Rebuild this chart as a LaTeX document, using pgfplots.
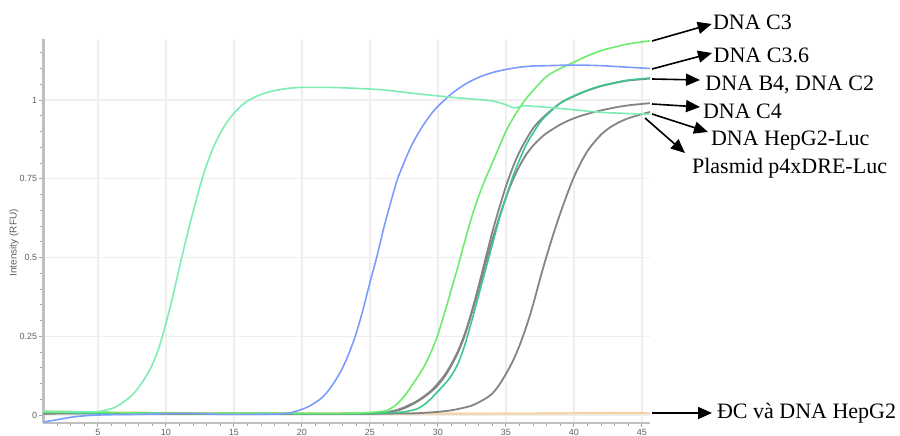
\documentclass[border=0pt]{standalone}
\usepackage{fontspec}
\setmainfont{Liberation Serif}
\newfontfamily\axisfont{Liberation Sans}
\usepackage{pgfplots}
\pgfplotsset{compat=1.18}
\usetikzlibrary{arrows.meta}

\definecolor{aqua}{HTML}{7DEDB4}
\definecolor{cblue}{HTML}{7B9CFF}
\definecolor{lgreen}{HTML}{6DEB6D}
\definecolor{mgreen}{HTML}{3CC88C}
\definecolor{cgray}{HTML}{848484}
\definecolor{corange}{HTML}{F2C98E}

\begin{document}
\begin{tikzpicture}
\begin{axis}[
  at={(0,0)}, anchor=south west,
  scale only axis, width=303.25pt, height=192pt,
  xmin=1, xmax=45.6, ymin=-0.0254, ymax=1.1937,
  axis x line=bottom, axis y line=left,
  axis line style={-, draw=gray!50, line width=1.2pt},
  xtick={5,10,...,45}, xticklabels={5,10,15,20,25,30,35,40,45},
  minor xtick={2,3,...,45},
  ytick={0,0.25,0.5,0.75,1}, yticklabels={0,0.25,0.5,0.75,1},
  minor ytick={0.05,0.1,...,1.16},
  grid=major, major grid style={draw=gray!13, line width=0.7pt},
  tick align=outside, tick style={draw=gray!70, line width=0.4pt},
  major tick length=2pt, minor tick length=1.5pt,
  /pgf/number format/assume math mode=true,
  ticklabel style={font=\axisfont\fontsize{4.5}{5}\selectfont, text=gray!75!black, inner sep=0pt},
  xticklabel style={yshift=-1pt},
  yticklabel style={xshift=-1pt},
  ylabel={Intensity (RFU)},
  ylabel style={at={(axis description cs:-0.0486,0.469)}, anchor=center,
    font=\axisfont\fontsize{5}{6}\selectfont, text=gray!75!black},
  every axis plot/.append style={smooth, tension=0.5, line width=0.8pt},
]
% controls (ĐC, DNA HepG2)
\addplot[corange] coordinates {(1,0.012)(3,0.011)(5,0.009)(8,0.008)(12,0.007)(16,0.006)(20,0.006)(25,0.006)(30,0.005)(35,0.005)(40,0.006)(43,0.007)(45.6,0.006)};
\addplot[corange!80!white] coordinates {(1,0.009)(4,0.008)(8,0.006)(12,0.005)(16,0.004)(20,0.004)(25,0.003)(30,0.004)(35,0.004)(40,0.005)(43,0.005)(45.6,0.005)};
% Plasmid p4xDRE-Luc
\addplot[cgray, line width=0.9pt] coordinates {(1,0.005)(5,0.006)(10,0.004)(15,0.003)(20,0.003)(25,0.004)(28,0.005)(29,0.007)(30,0.01)(31,0.015)(32,0.024)(32.5,0.03)(33,0.04)(33.5,0.052)(34,0.068)(34.5,0.095)(35,0.13)(35.5,0.17)(36,0.22)(36.5,0.28)(37,0.35)(37.5,0.43)(38,0.505)(38.5,0.575)(39,0.64)(39.5,0.7)(40,0.755)(40.5,0.8)(41,0.838)(41.5,0.866)(42,0.89)(42.5,0.908)(43,0.922)(44,0.942)(45.6,0.962)};
% DNA C4
\addplot[cgray, line width=0.9pt] coordinates {(1,0.004)(4,0.005)(8,0.003)(12,0.004)(16,0.003)(20,0.004)(24,0.004)(26,0.006)(27,0.014)(27.5,0.021)(28,0.031)(28.5,0.043)(29,0.057)(29.5,0.074)(30,0.095)(30.5,0.122)(31,0.158)(31.5,0.2)(32,0.255)(32.5,0.325)(33,0.4)(33.5,0.48)(34,0.555)(34.5,0.625)(35,0.69)(35.5,0.745)(36,0.79)(36.5,0.827)(37,0.855)(37.5,0.877)(38,0.895)(39,0.922)(40,0.942)(41,0.956)(42,0.967)(43,0.976)(44,0.983)(45.6,0.99)};
% DNA B4
\addplot[cgray, line width=0.9pt] coordinates {(1,0.006)(4,0.008)(8,0.004)(12,0.003)(16,0.004)(20,0.003)(24,0.004)(26,0.007)(26.5,0.011)(27,0.016)(27.5,0.024)(28,0.034)(28.5,0.045)(29,0.06)(29.5,0.077)(30,0.1)(30.5,0.127)(31,0.162)(31.5,0.205)(32,0.26)(32.5,0.33)(33,0.41)(33.5,0.495)(34,0.58)(34.5,0.655)(35,0.725)(35.5,0.785)(36,0.835)(36.5,0.875)(37,0.91)(37.5,0.935)(38,0.955)(39,0.99)(40,1.012)(41,1.03)(42,1.044)(43,1.054)(44,1.062)(45.6,1.068)};
% DNA C2
\addplot[mgreen] coordinates {(1,0.010)(4,0.006)(8,0.007)(12,0.004)(16,0.005)(20,0.004)(24,0.004)(26.5,0.007)(27.5,0.01)(28,0.014)(28.5,0.02)(29,0.033)(29.5,0.052)(30,0.075)(30.5,0.098)(31,0.125)(31.5,0.165)(32,0.225)(32.5,0.3)(33,0.38)(33.5,0.46)(34,0.54)(34.5,0.62)(35,0.69)(35.5,0.755)(36,0.81)(36.5,0.858)(37,0.895)(37.5,0.928)(38,0.952)(39,0.99)(40,1.013)(41,1.031)(42,1.045)(43,1.055)(44,1.063)(45.6,1.07)};
% DNA C3
\addplot[lgreen] coordinates {(1,0.008)(4,0.01)(8,0.006)(12,0.005)(16,0.006)(20,0.005)(24,0.006)(26,0.012)(26.5,0.02)(27,0.035)(27.5,0.058)(28,0.088)(28.5,0.12)(29,0.155)(29.5,0.2)(30,0.255)(30.5,0.325)(31,0.4)(31.5,0.475)(32,0.555)(32.5,0.63)(33,0.695)(33.5,0.75)(34,0.8)(34.5,0.85)(35,0.9)(35.5,0.94)(36,0.975)(36.5,1.005)(37,1.03)(38,1.075)(39,1.1)(40,1.12)(41,1.14)(42,1.157)(43,1.168)(44,1.178)(45.6,1.188)};
% DNA C3.6
\addplot[cblue] coordinates {(1,-0.022)(2,-0.015)(3.2,-0.006)(4.5,-0.001)(6,0.001)(8,0.002)(10,0.004)(12,0.005)(14,0.002)(16,0.002)(18,0.003)(19,0.006)(19.5,0.011)(20,0.018)(20.5,0.027)(21,0.04)(21.5,0.056)(22,0.08)(22.5,0.112)(23,0.15)(23.5,0.2)(24,0.26)(24.5,0.335)(25,0.42)(25.5,0.5)(26,0.59)(26.5,0.67)(27,0.745)(27.5,0.8)(28,0.85)(28.5,0.89)(29,0.925)(29.5,0.955)(30,0.98)(30.5,1.0)(31,1.02)(32,1.05)(33,1.072)(34,1.087)(35,1.097)(36,1.104)(37,1.108)(38,1.109)(40,1.111)(42,1.109)(44,1.104)(45.6,1.10)};
% DNA HepG2-Luc
\addplot[aqua] coordinates {(1,0.012)(2.5,0.011)(4,0.01)(5,0.011)(6,0.02)(6.5,0.03)(7,0.045)(7.5,0.062)(8,0.088)(8.5,0.12)(9,0.16)(9.5,0.215)(10,0.29)(10.5,0.375)(11,0.47)(11.5,0.56)(12,0.645)(12.5,0.725)(13,0.795)(13.5,0.85)(14,0.895)(14.5,0.93)(15,0.958)(15.5,0.98)(16,0.997)(17,1.018)(18,1.03)(19,1.037)(20,1.04)(22,1.04)(24,1.037)(26,1.032)(28,1.022)(30,1.013)(32,1.005)(34,0.997)(35,0.985)(35.6,0.975)(36.3,0.982)(37,0.98)(38,0.977)(40,0.969)(42,0.961)(44,0.957)(45.6,0.955)};
\end{axis}

% labels with pointers to the curve ends
\begin{scope}[every node/.style={inner sep=0pt, anchor=base west, font=\fontsize{11}{13}\selectfont},
  arr/.style={-{Triangle[length=7pt,width=6pt]}, line width=0.8pt, black}]
  \draw[arr] (304.25pt,191pt) -- (334.1pt,199.5pt);
  \node at (334.6pt,196.85pt) {DNA C3};
  \draw[arr] (304.25pt,177pt) -- (334.25pt,185pt);
  \node at (334.9pt,180.15pt) {DNA C3.6};
  \draw[arr] (304.25pt,172pt) -- (328.25pt,171.5pt);
  \node at (330.75pt,166.15pt) {DNA B4, DNA C2};
  \draw[arr] (304.25pt,159.5pt) -- (328.25pt,158pt);
  \node at (329.6pt,152.5pt) {DNA C4};
  \draw[arr] (304.25pt,154.5pt) -- (332.25pt,145.5pt);
  \node at (333.6pt,139pt) {DNA HepG2-Luc};
  \draw[arr] (300.75pt,152.5pt) -- (320.75pt,135pt);
  \node at (324.1pt,124.85pt) {Plasmid p4xDRE-Luc};
  \draw[arr] (304.25pt,5pt) -- (334.25pt,5pt);
  \node at (336.6pt,2.35pt) {ĐC và DNA HepG2};
\end{scope}

\pgfresetboundingbox
\path[use as bounding box] (-21.75pt,-6pt) rectangle (428.25pt,211.5pt);
\end{tikzpicture}
\end{document}
